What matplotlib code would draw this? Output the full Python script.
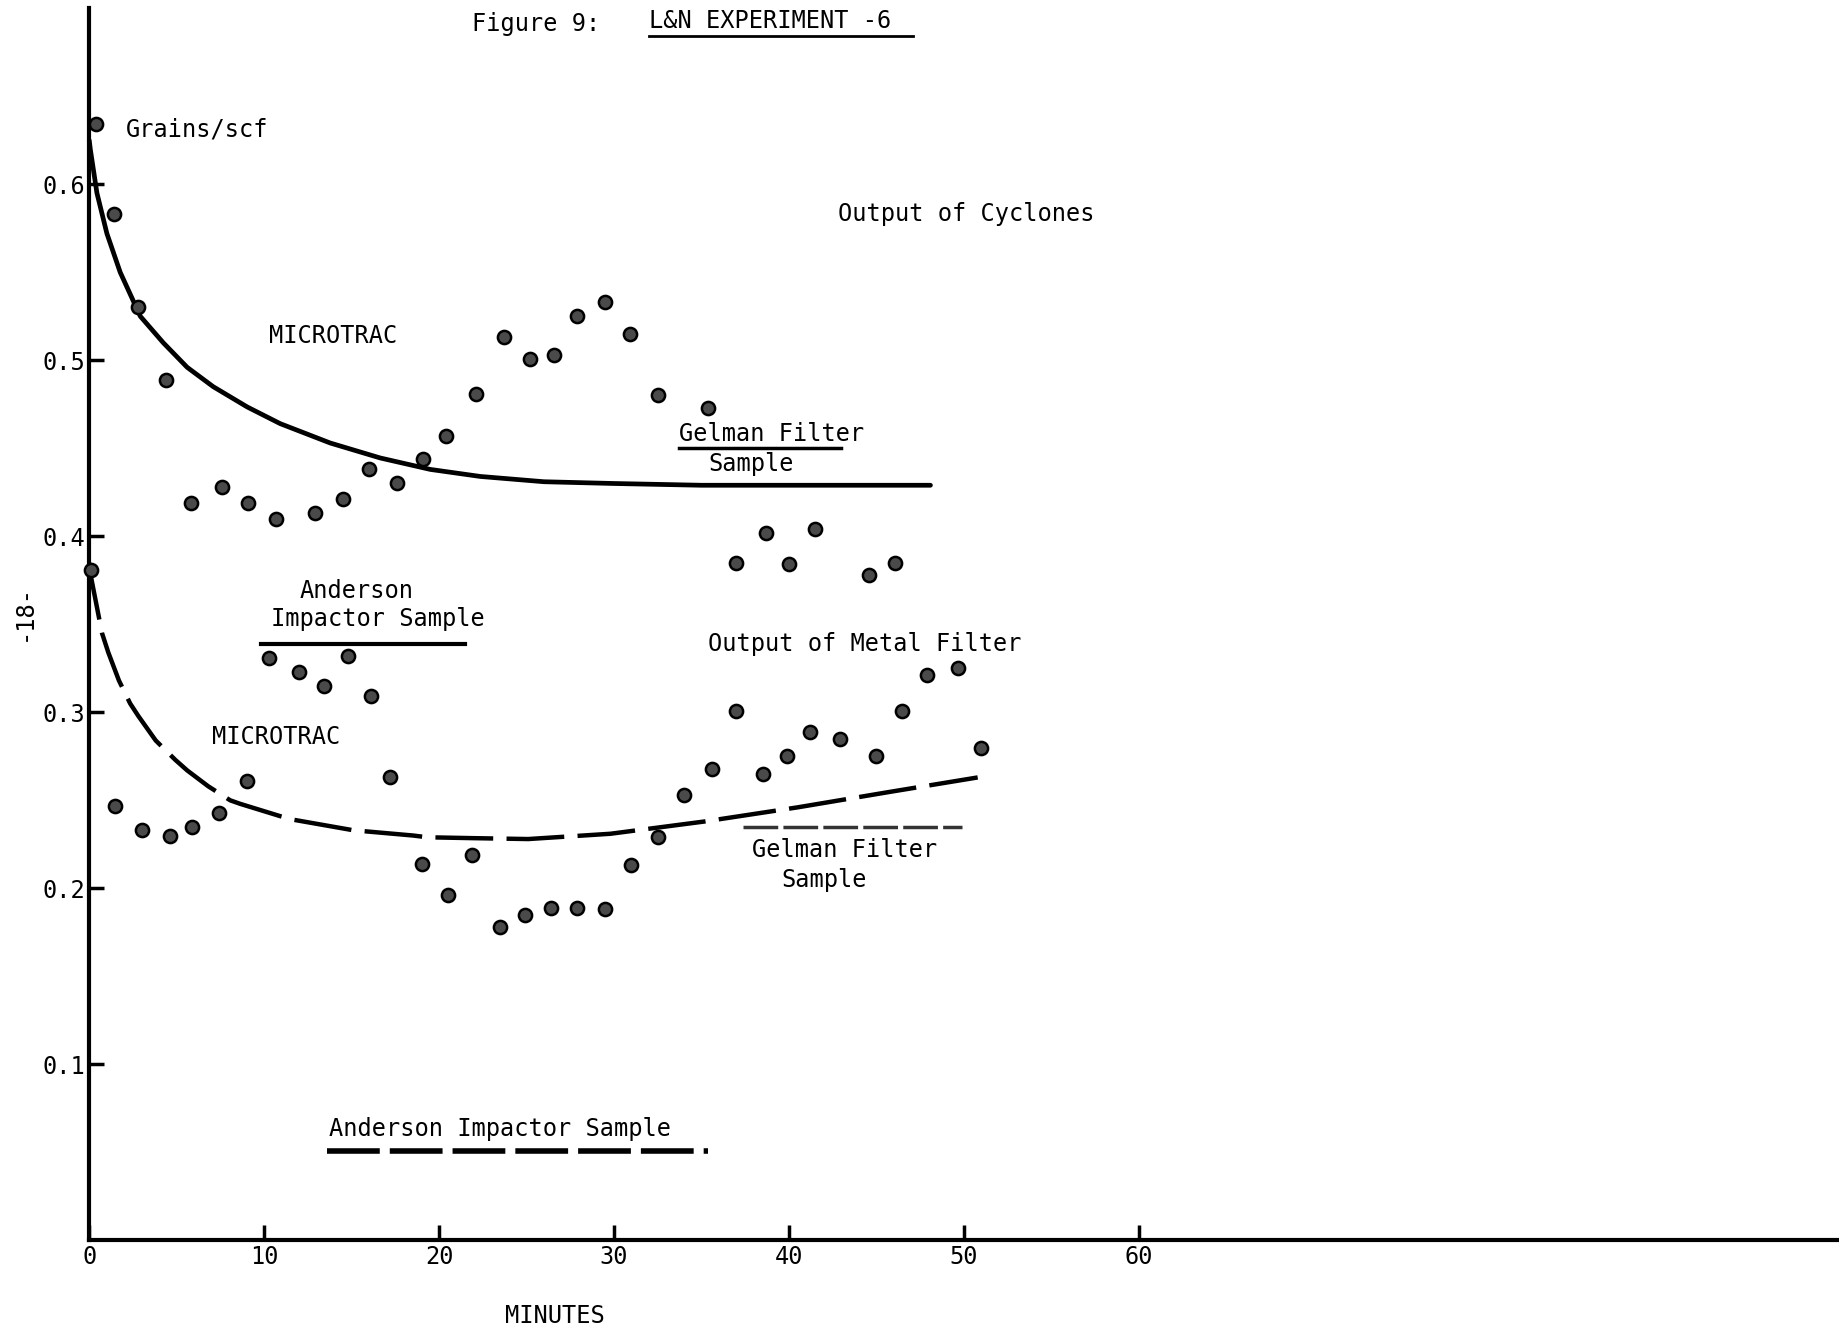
import matplotlib
matplotlib.use("Agg")
import matplotlib.pyplot as plt

# Grains/scf measurements, output of cyclones (minutes, value)
cyclone_t = [0.4, 1.4, 2.8, 4.4, 5.8, 7.6, 9.1, 10.7, 12.9, 14.5, 16.0, 17.6,
             19.1, 20.4, 22.1, 23.7, 25.2, 26.6, 27.9, 29.5, 30.9, 32.5, 35.4,
             37.0, 38.7, 40.0, 41.5, 44.6, 46.1]
cyclone_v = [0.634, 0.583, 0.530, 0.489, 0.419, 0.428, 0.419, 0.410, 0.413,
             0.421, 0.438, 0.430, 0.444, 0.457, 0.481, 0.513, 0.501, 0.503,
             0.525, 0.533, 0.515, 0.480, 0.473, 0.385, 0.402, 0.384, 0.404,
             0.378, 0.385]

# Grains/scf measurements, output of metal filter
metal_t = [0.1, 1.5, 3.0, 4.6, 5.9, 7.4, 9.0, 10.3, 12.0, 13.4, 14.8, 16.1,
           17.2, 19.0, 20.5, 21.9, 23.5, 24.9, 26.4, 27.9, 29.5, 31.0, 32.5,
           34.0, 35.6, 37.0, 38.5, 39.9, 41.2, 42.9, 45.0, 46.5, 47.9, 49.7,
           51.0]
metal_v = [0.381, 0.247, 0.233, 0.230, 0.235, 0.243, 0.261, 0.331, 0.323,
           0.315, 0.332, 0.309, 0.263, 0.214, 0.196, 0.219, 0.178, 0.185,
           0.189, 0.189, 0.188, 0.213, 0.229, 0.253, 0.268, 0.301, 0.265,
           0.275, 0.289, 0.285, 0.275, 0.301, 0.321, 0.325, 0.280]

# MICROTRAC trend curves
micro_up_t = [0.0, 0.06, 0.44, 1.01, 1.77, 2.92, 4.23, 5.60, 7.09, 9.03,
              10.92, 13.78, 16.64, 19.50, 22.36, 26.0, 30.0, 35.0, 40.0, 48.1]
micro_up_v = [0.625, 0.620, 0.595, 0.572, 0.550, 0.525, 0.510, 0.496, 0.485,
              0.4735, 0.464, 0.453, 0.4445, 0.438, 0.434, 0.431, 0.430,
              0.429, 0.429, 0.429]
micro_lo_t = [0.0, 0.06, 0.73, 1.09, 1.70, 2.34, 2.80, 3.80, 4.92, 5.60,
              6.80, 8.06, 8.63, 10.92, 11.66, 14.52, 15.09, 18.52, 19.33,
              22.0, 25.1, 29.8, 35.2, 40.5, 45.9, 50.8]
micro_lo_v = [0.385, 0.379, 0.345, 0.334, 0.318, 0.305, 0.298, 0.284, 0.273,
              0.267, 0.258, 0.250, 0.248, 0.241, 0.239, 0.234, 0.233, 0.230,
              0.229, 0.2285, 0.228, 0.231, 0.238, 0.246, 0.255, 0.263]

# Reference samples: value and time span
gelman_up_v, gelman_up_span = 0.450, (33.7, 43.0)
anderson_up_v, anderson_up_span = 0.339, (9.8, 21.5)
gelman_lo_v, gelman_lo_span = 0.235, (37.4, 49.9)
anderson_lo_v, anderson_lo_span = 0.051, (13.6, 35.4)

x_ticks = [0, 10, 20, 30, 40, 50, 60]
y_ticks = [0.1, 0.2, 0.3, 0.4, 0.5, 0.6]

FONT = "DejaVu Sans Mono"
FS = 17
plt.rcParams["font.family"] = FONT

fig = plt.figure(figsize=(18.4, 13.32), dpi=100)
ax = fig.add_axes([0.0485, 0.0688, 0.9505, 0.925])
ax.set_xlim(0, 100)
ax.set_ylim(0, 0.70)

for s in ("top", "right"):
    ax.spines[s].set_visible(False)
for s in ("left", "bottom"):
    ax.spines[s].set_linewidth(3)

ax.set_xticks(x_ticks)
ax.set_xticklabels([str(t) for t in x_ticks])
ax.set_yticks(y_ticks)
ax.set_yticklabels([f"{t:.1f}" for t in y_ticks])
ax.tick_params(direction="in", length=11, width=2.5, labelsize=FS, pad=3)

# trend curves
ax.plot(micro_up_t, micro_up_v, color="black", lw=3.4, solid_capstyle="round",
        solid_joinstyle="round", clip_on=False, zorder=2)
ax.plot(micro_lo_t, micro_lo_v, color="black", lw=3.2, dashes=(13, 3),
        clip_on=False, zorder=2)

# sample reference lines
ax.plot(gelman_up_span, [gelman_up_v] * 2, color="black", lw=2.5)
ax.plot(anderson_up_span, [anderson_up_v] * 2, color="black", lw=3)
ax.plot(gelman_lo_span, [gelman_lo_v] * 2, color="#333333", lw=2.5,
        dashes=(10, 1.5))
ax.plot(anderson_lo_span, [anderson_lo_v] * 2, color="black", lw=4,
        dashes=(9.5, 1.8))

# measurement points
mk = dict(marker="o", ls="none", ms=9.5, mfc="#4a4a4a", mec="black", mew=1.8,
          clip_on=False, zorder=3)
ax.plot(cyclone_t, cyclone_v, **mk)
ax.plot(metal_t, metal_v, **mk)

def label(x, y, s):
    ax.text(x, y, s, fontsize=FS, ha="left", va="center", clip_on=False)

label(21.9, 0.691, "Figure 9:")
label(32.0, 0.693, "L&N EXPERIMENT -6")
ax.plot([32.0, 47.1], [0.684, 0.684], color="black", lw=2)
label(2.1, 0.631, "Grains/scf")
label(42.8, 0.583, "Output of Cyclones")
label(10.3, 0.514, "MICROTRAC")
label(33.7, 0.458, "Gelman Filter")
label(35.4, 0.441, "Sample")
label(12.0, 0.369, "Anderson")
label(10.4, 0.353, "Impactor Sample")
label(35.4, 0.339, "Output of Metal Filter")
label(7.0, 0.286, "MICROTRAC")
label(37.9, 0.222, "Gelman Filter")
label(39.6, 0.205, "Sample")
label(13.7, 0.063, "Anderson Impactor Sample")
ax.text(26.6, -0.043, "MINUTES", fontsize=FS, ha="center", va="center",
        clip_on=False)

fig.text(0.0128, 0.540, "-18-", fontsize=FS, rotation=90, ha="center",
         va="center")

fig.savefig("out.png", dpi=100)
